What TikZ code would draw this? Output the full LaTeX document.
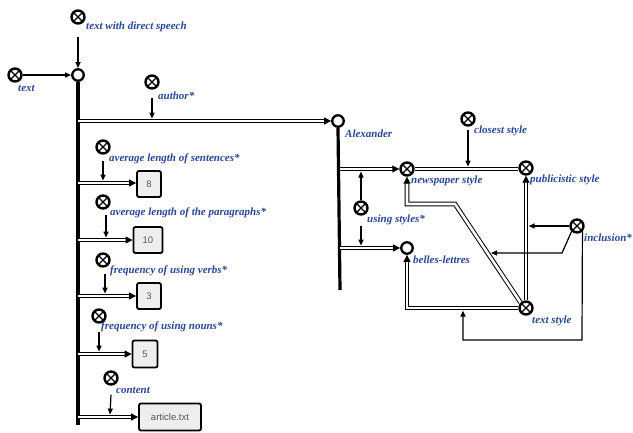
\documentclass[tikz,border=0pt]{standalone}
\usepackage{fontspec}
\setmainfont{Liberation Serif}
\newfontfamily\boxfont{Liberation Sans}
\usetikzlibrary{arrows.meta}
\definecolor{lblue}{RGB}{40,70,150}
\definecolor{boxgrey}{RGB}{238,238,238}
\definecolor{boxtext}{RGB}{85,85,85}
\begin{document}
\begin{tikzpicture}[x=1pt,y=-1pt,
  xcirc/.style={circle,draw,line width=2.4pt,fill=white,minimum size=13pt,inner sep=0pt,
    path picture={\draw[line width=1.4pt] (path picture bounding box.north west)--(path picture bounding box.south east) (path picture bounding box.north east)--(path picture bounding box.south west);}},
  ocirc/.style={circle,draw,line width=2.3pt,fill=white,minimum size=11.5pt,inner sep=0pt},
  lbl/.style={anchor=west,inner sep=0pt,text=lblue,font=\bfseries\itshape\fontsize{11}{12}\selectfont},
  valbox/.style={draw,line width=1.8pt,fill=boxgrey,rounded corners=2pt,inner sep=0pt,
    font=\boxfont\fontsize{9.5}{10}\selectfont,text=boxtext,
    path picture={\fill ([xshift=6pt]path picture bounding box.north west) -- (path picture bounding box.north west) -- ([yshift=-6pt]path picture bounding box.north west) -- cycle;}},
  thinarrow/.style={-{Triangle[length=6pt,width=5pt]},line width=1.2pt},
  hollow/.style={double,double distance=2.6pt,line width=1pt,-{Triangle[length=7pt,width=7pt]}},
  dline/.style={double,double distance=2.6pt,line width=1pt},
  spine/.style={line width=3.8pt}
]
\useasboundingbox (0,0) rectangle (633,432);

% ---- left part ----
\node[xcirc] (xds) at (78,17) {};
\node[lbl] (lds) at (86,27) {text with direct speech};
\node[xcirc] (xtext) at (15,75) {};
\node[lbl] (ltext) at (18,88) {text};
\node[ocirc] (o0) at (78,75) {};
\coordinate (spineend) at (78,425);
\draw[spine] (o0.south) -- (spineend);
\draw[thinarrow] ([yshift=-12pt]xds.south) -- (o0.north);
\draw[thinarrow] (xtext.east) -- (o0.west);

% author
\node[xcirc] (xauth) at (152,82) {};
\node[lbl] (lauth) at (158,96) {author*};
\node[ocirc] (alex) at (338,121) {};
\node[lbl] (lalex) at (345,134) {Alexander};
\coordinate (b0) at (78,121);
\coordinate (t0) at (152,118.6);
\draw[hollow] (b0) -- (alex.west);
\draw[thinarrow] ([yshift=-8pt]xauth.south) -- (t0);

% sentences
\node[xcirc] (xsent) at (103,147) {};
\node[lbl] (lsent) at (109,159) {average length of sentences*};
\node[valbox,minimum width=24pt,minimum height=26pt] (box8) at (149,184) {8};
\coordinate (b1) at (78,183);
\coordinate (t1) at (103,180.6);
\draw[hollow] (b1) -- (b1-|box8.west);
\draw[thinarrow] ([yshift=-6pt]xsent.south) -- (t1);

% paragraphs
\node[xcirc] (xpar) at (103,202) {};
\node[lbl] (lpar) at (110,213) {average length of the paragraphs*};
\node[valbox,minimum width=29pt,minimum height=26pt] (box10) at (148,240) {10};
\coordinate (b2) at (78,240);
\coordinate (t2) at (106,237.6);
\draw[hollow] (b2) -- (b2-|box10.west);
\draw[thinarrow] (106,215) -- (t2);

% verbs
\node[xcirc] (xverb) at (103,260) {};
\node[lbl] (lverb) at (110,271) {frequency of using verbs*};
\node[valbox,minimum width=24pt,minimum height=26pt] (box3) at (149,296) {3};
\coordinate (b3) at (78,296);
\coordinate (t3) at (105,293.6);
\draw[hollow] (b3) -- (b3-|box3.west);
\draw[thinarrow] (105,274) -- (t3);

% nouns
\node[xcirc] (xnoun) at (99,316) {};
\node[lbl] (lnoun) at (101,327) {frequency of using nouns*};
\node[valbox,minimum width=25pt,minimum height=27pt] (box5) at (145,354) {5};
\coordinate (b4) at (78,354);
\coordinate (t4) at (99,351.6);
\draw[thinarrow] ([yshift=-8pt]xnoun.south) -- (t4);
\draw[hollow] (b4) -- (b4-|box5.west);

% content
\node[xcirc] (xcont) at (111,378) {};
\node[lbl] (lcont) at (116,390) {content};
\node[valbox,minimum width=62pt,minimum height=27pt] (boxart) at (170,417) {article.txt};
\coordinate (b5) at (78,417);
\coordinate (t5) at (110,414.6);
\draw[thinarrow] ([yshift=-9pt]xcont.south) -- (t5);
\draw[hollow] (b5) -- (b5-|boxart.west);

% ---- right part ----
\coordinate (aend) at (340,290);
\draw[line width=3.2pt] (alex.south) -- (aend);
\node[xcirc] (newsp) at (407,169) {};
\node[lbl] (lnews) at (411,181) {newspaper style};
\node[ocirc] (belles) at (407,248) {};
\node[lbl] (lbelles) at (413,260) {belles-lettres};
\coordinate (a1) at (340,169);
\coordinate (a2) at (340,248);
\draw[hollow] (a1) -- (newsp.west);
\draw[hollow] (a2) -- (belles.west);

\node[xcirc] (xusing) at (361,208) {};
\node[lbl] (lusing) at (367,220) {using styles*};
\coordinate (u1) at (361,171.5);
\coordinate (u2) at (361,226);
\coordinate (u3) at (361,245.6);
\draw[thinarrow] (xusing.north) -- (u1);
\draw[thinarrow] (u2) -- (u3);

\node[xcirc] (publ) at (526,168) {};
\node[lbl] (lpub) at (530,180) {publicistic style};
\draw[dline] (newsp.east) -- (newsp.east-|publ.west);

\node[xcirc] (xclose) at (468,119) {};
\node[lbl] (lclose) at (474,131) {closest style};
\coordinate (cl) at (468,166.6);
\draw[thinarrow] ([yshift=-3pt]xclose.south) -- (cl);

\node[xcirc] (txt) at (526,308) {};
\node[lbl] (ltxt) at (532,321) {text style};
\draw[hollow] (txt.north) -- (publ.south);
\coordinate (c1) at (455,204);
\coordinate (c2) at (407,204);
\draw[hollow] (txt.north west) -- (c1) -- (c2) -- (newsp.south);
\draw[hollow] (txt.west) -| (belles.south);

\node[xcirc] (xincl) at (577,226) {};
\node[lbl] (lincl) at (584,238) {inclusion*};
\coordinate (i1) at (528.6,226);
\draw[thinarrow] (xincl.west) -- (i1);
\coordinate (i2a) at (562,253);
\coordinate (i2) at (491,253);
\draw[thinarrow] (xincl.south west) -- (i2a) -- (i2);
\coordinate (i3a) at (582,340);
\coordinate (i3b) at (463,340);
\coordinate (i3) at (463,310.6);
\draw[thinarrow] (xincl.south east) -- (i3a) -- (i3b) -- (i3);
\end{tikzpicture}
\end{document}
